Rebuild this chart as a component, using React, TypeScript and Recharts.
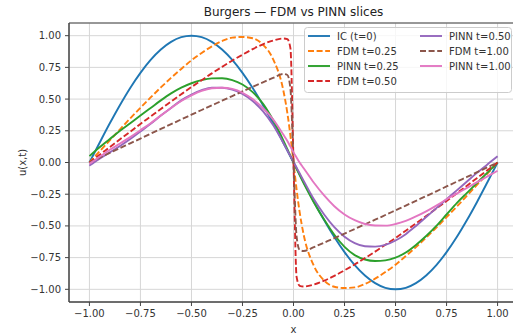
import React from "react";
import {
  LineChart,
  Line,
  XAxis,
  YAxis,
  CartesianGrid,
  ReferenceArea,
} from "recharts";

const FONT = "'DejaVu Sans', Verdana, sans-serif";

// x grid (denser near the shock at x=0)
const X = [
  -1, -0.95, -0.9, -0.85, -0.8, -0.75, -0.7, -0.65, -0.6, -0.55, -0.5, -0.45,
  -0.4, -0.35, -0.3, -0.25, -0.2, -0.15, -0.1, -0.05, -0.03, -0.015, 0, 0.015,
  0.03, 0.05, 0.1, 0.15, 0.2, 0.25, 0.3, 0.35, 0.4, 0.45, 0.5, 0.55, 0.6, 0.65,
  0.7, 0.75, 0.8, 0.85, 0.9, 0.95, 1,
];

const IC = [
  0, 0.156, 0.309, 0.454, 0.588, 0.707, 0.809, 0.891, 0.951, 0.988, 1.0, 0.988,
  0.951, 0.891, 0.809, 0.707, 0.588, 0.454, 0.309, 0.156, 0.094, 0.047, 0,
  -0.047, -0.094, -0.156, -0.309, -0.454, -0.588, -0.707, -0.809, -0.891,
  -0.951, -0.988, -1.0, -0.988, -0.951, -0.891, -0.809, -0.707, -0.588, -0.454,
  -0.309, -0.156, 0,
];

const FDM_025 = [
  0, 0.088, 0.175, 0.262, 0.348, 0.431, 0.513, 0.592, 0.667, 0.738, 0.806,
  0.864, 0.916, 0.958, 0.985, 0.99, 0.98, 0.93, 0.815, 0.57, 0.39, 0.21, 0,
  -0.21, -0.39, -0.57, -0.815, -0.93, -0.98, -0.99, -0.985, -0.958, -0.916,
  -0.864, -0.806, -0.738, -0.667, -0.592, -0.513, -0.431, -0.348, -0.262,
  -0.175, -0.088, 0,
];

const PINN_025 = [
  0.05, 0.12, 0.185, 0.25, 0.31, 0.37, 0.43, 0.49, 0.545, 0.59, 0.625, 0.65,
  0.663, 0.664, 0.65, 0.615, 0.555, 0.465, 0.335, 0.175, 0.105, 0.052, 0,
  -0.05, -0.1, -0.165, -0.315, -0.45, -0.57, -0.665, -0.73, -0.765, -0.777,
  -0.772, -0.75, -0.71, -0.65, -0.58, -0.5, -0.41, -0.32, -0.24, -0.16, -0.08,
  0,
];

const FDM_050 = [
  0, 0.061, 0.122, 0.183, 0.243, 0.304, 0.363, 0.422, 0.48, 0.538, 0.595,
  0.649, 0.703, 0.754, 0.804, 0.85, 0.894, 0.932, 0.962, 0.978, 0.972, 0.9, 0,
  -0.9, -0.972, -0.978, -0.962, -0.932, -0.894, -0.85, -0.804, -0.754, -0.703,
  -0.649, -0.595, -0.538, -0.48, -0.422, -0.363, -0.304, -0.243, -0.183,
  -0.122, -0.061, 0,
];

const PINN_050 = [
  -0.025, 0.03, 0.08, 0.13, 0.185, 0.245, 0.305, 0.37, 0.43, 0.49, 0.535,
  0.57, 0.59, 0.59, 0.575, 0.54, 0.485, 0.405, 0.295, 0.155, 0.095, 0.05,
  0.005, -0.04, -0.085, -0.145, -0.29, -0.41, -0.51, -0.585, -0.635, -0.66,
  -0.663, -0.65, -0.615, -0.565, -0.5, -0.43, -0.36, -0.29, -0.22, -0.15,
  -0.08, -0.015, 0.05,
];

const FDM_100 = [
  0, 0.038, 0.076, 0.114, 0.151, 0.189, 0.227, 0.265, 0.302, 0.34, 0.377,
  0.414, 0.451, 0.487, 0.524, 0.56, 0.597, 0.632, 0.667, 0.698, 0.69, 0.58, 0,
  -0.58, -0.69, -0.698, -0.667, -0.632, -0.597, -0.56, -0.524, -0.487, -0.451,
  -0.414, -0.377, -0.34, -0.302, -0.265, -0.227, -0.189, -0.151, -0.114,
  -0.076, -0.038, 0,
];

const PINN_100 = [
  -0.01, 0.045, 0.1, 0.15, 0.2, 0.255, 0.31, 0.37, 0.43, 0.485, 0.53, 0.565,
  0.585, 0.59, 0.58, 0.55, 0.5, 0.43, 0.34, 0.22, 0.17, 0.125, 0.08, 0.04, 0,
  -0.045, -0.16, -0.26, -0.345, -0.41, -0.455, -0.485, -0.497, -0.498, -0.485,
  -0.46, -0.425, -0.385, -0.34, -0.29, -0.245, -0.2, -0.155, -0.11, -0.065,
];

const TICKS = [-1, -0.75, -0.5, -0.25, 0, 0.25, 0.5, 0.75, 1];

const SERIES = [
  { key: "ic", name: "IC (t=0)", color: "#1f77b4", dashed: false, values: IC },
  { key: "fdm025", name: "FDM t=0.25", color: "#ff7f0e", dashed: true, values: FDM_025 },
  { key: "pinn025", name: "PINN t=0.25", color: "#2ca02c", dashed: false, values: PINN_025 },
  { key: "fdm050", name: "FDM t=0.50", color: "#d62728", dashed: true, values: FDM_050 },
  { key: "pinn050", name: "PINN t=0.50", color: "#9467bd", dashed: false, values: PINN_050 },
  { key: "fdm100", name: "FDM t=1.00", color: "#8c564b", dashed: true, values: FDM_100 },
  { key: "pinn100", name: "PINN t=1.00", color: "#e377c2", dashed: false, values: PINN_100 },
];

const data = X.map((x, i) => {
  const row: Record<string, number> = { x };
  SERIES.forEach((s) => {
    row[s.key] = s.values[i];
  });
  return row;
});

const fmt = (v: number) => v.toFixed(2).replace("-", "\u2212");

const DASH = "6 2.6";
const LW = 1.9;

function LegendBox() {
  const rows = [9, 24, 39, 54];
  return (
    <svg
      width={208}
      height={66}
      style={{ position: "absolute", left: 304, top: 27 }}
    >
      <rect
        x={0.5}
        y={0.5}
        width={207}
        height={65}
        rx={3}
        fill="#fff"
        fillOpacity={0.8}
        stroke="#cccccc"
      />
      {SERIES.map((s, i) => {
        const col = i < 4 ? 0 : 1;
        const y = rows[col === 0 ? i : i - 4];
        const x0 = col === 0 ? 4 : 116;
        return (
          <g key={s.key}>
            <line
              x1={x0}
              x2={x0 + 22}
              y1={y}
              y2={y}
              stroke={s.color}
              strokeWidth={LW}
              strokeDasharray={s.dashed ? DASH : undefined}
            />
            <text
              x={x0 + 29}
              y={y}
              dominantBaseline="central"
              fontSize={10}
              fontFamily={FONT}
              fill="#333"
            >
              {s.name}
            </text>
          </g>
        );
      })}
    </svg>
  );
}

export default function App() {
  return (
    <div
      style={{
        position: "absolute",
        left: 0,
        top: 0,
        width: 513,
        height: 333,
        overflow: "hidden",
        background: "#fff",
        fontFamily: FONT,
      }}
    >
      <div
        style={{
          position: "absolute",
          left: 69,
          width: 449,
          top: 5,
          textAlign: "center",
          fontSize: 12,
          lineHeight: "14px",
          color: "#222",
        }}
      >
        Burgers — FDM vs PINN slices
      </div>
      <LineChart
        width={530}
        height={333}
        data={data}
        margin={{ top: 23, right: 12, bottom: 0, left: 0 }}
      >
        <CartesianGrid stroke="#d6d6d6" strokeWidth={1} />
        <XAxis
          dataKey="x"
          type="number"
          domain={[-1.1, 1.1]}
          ticks={TICKS}
          tickFormatter={fmt}
          height={31}
          tickSize={4}
          tickMargin={4}
          interval={0}
          allowDataOverflow
          stroke="#444"
          tick={{ fontSize: 10, fill: "#333", fontFamily: FONT }}
          label={{
            content: () => (
              <text
                x={293.5}
                y={329}
                textAnchor="middle"
                dominantBaseline="central"
                fontSize={10}
                fontFamily={FONT}
                fill="#333"
              >
                x
              </text>
            ),
          }}
        />
        <YAxis
          type="number"
          domain={[-1.1, 1.1]}
          ticks={TICKS}
          tickFormatter={fmt}
          width={69}
          tickSize={4}
          tickMargin={4}
          interval={0}
          allowDataOverflow
          stroke="#444"
          tick={{ fontSize: 10, fill: "#333", fontFamily: FONT }}
          label={{
            content: (p: any) => {
              const vb = p.viewBox || { y: 23, height: 279 };
              const cx = 22;
              const cy = vb.y + vb.height / 2;
              return (
                <text
                  x={cx}
                  y={cy}
                  transform={`rotate(-90 ${cx} ${cy})`}
                  textAnchor="middle"
                  dominantBaseline="central"
                  fontSize={10}
                  fontFamily={FONT}
                  fill="#333"
                >
                  u(x,t)
                </text>
              );
            },
          }}
        />
        {SERIES.map((s) => (
          <Line
            key={s.key}
            dataKey={s.key}
            name={s.name}
            type="monotone"
            stroke={s.color}
            strokeWidth={LW}
            strokeDasharray={s.dashed ? DASH : undefined}
            dot={false}
            activeDot={false}
            isAnimationActive={false}
          />
        ))}
        <ReferenceArea
          x1={-1.1}
          x2={1.1}
          y1={-1.1}
          y2={1.1}
          fill="none"
          stroke="#444"
          strokeWidth={1}
          ifOverflow="visible"
        />
      </LineChart>
      <LegendBox />
    </div>
  );
}
